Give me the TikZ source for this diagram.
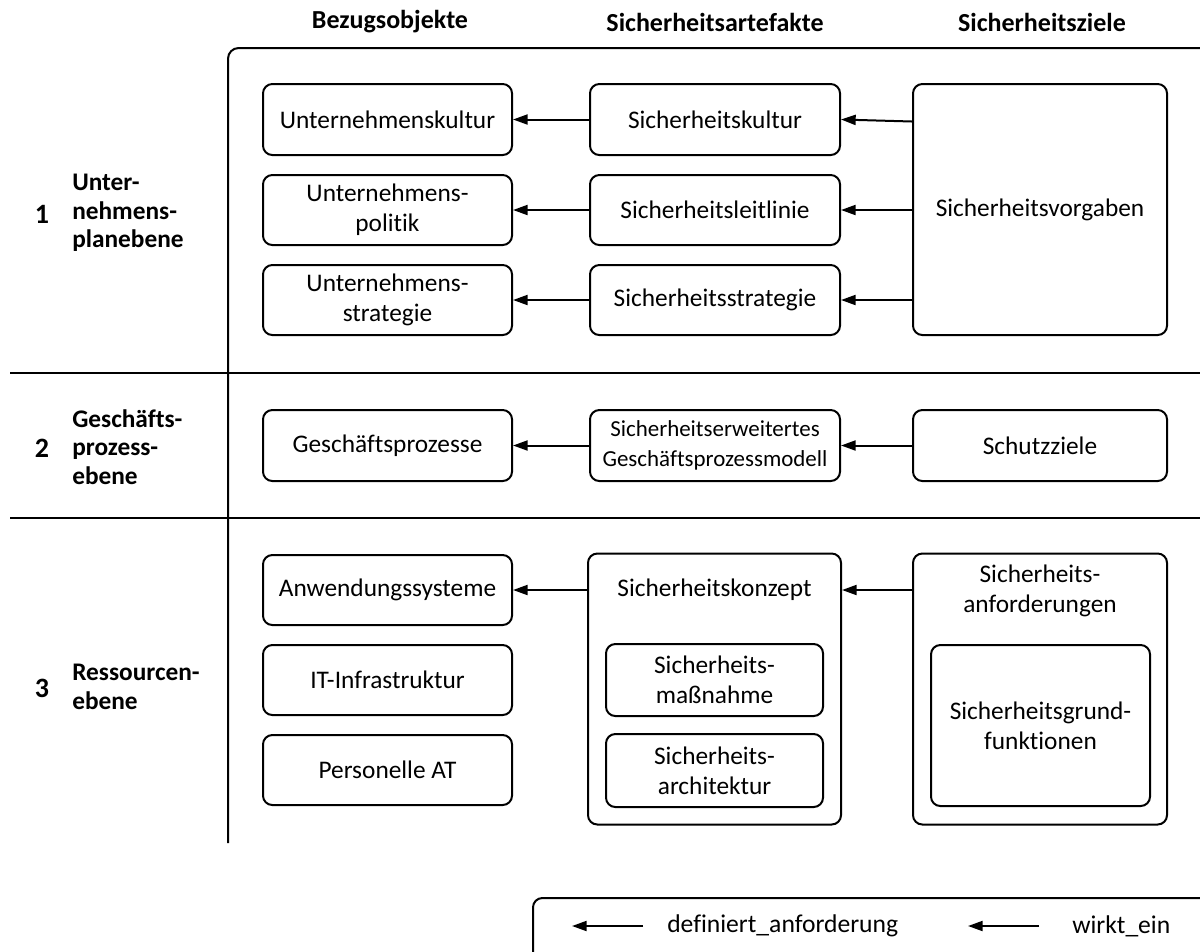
\documentclass[tikz,border=0pt]{standalone}
\usepackage{fontspec}
\setmainfont{Carlito}[Ligatures=NoCommon]
\usetikzlibrary{arrows.meta}
\begin{document}
\begin{tikzpicture}[x=0.75pt,y=-0.75pt,
  every node/.style={font=\fontsize{19}{22.5}\selectfont},
  box/.style={draw,line width=1.5pt,rounded corners=7pt,align=center,inner sep=0pt},
  wpx/.style={minimum width=#1*0.75pt},
  hpx/.style={minimum height=#1*0.75pt},
  small/.style={font=\fontsize{17.2}{22}\selectfont},
  head/.style={font=\bfseries\fontsize{19.5}{22}\selectfont},
  num/.style={font=\bfseries\fontsize{21}{22}\selectfont},
  lvl/.style={font=\bfseries\fontsize{19}{21.5}\selectfont,align=left,anchor=west,inner sep=0pt},
  legtext/.style={font=\fontsize{19.2}{22}\selectfont,anchor=west,inner sep=0pt},
  rule/.style={line width=1.5pt},
  link/.style={line width=1.5pt,-{Triangle[length=11pt,width=7.5pt]}}]
\clip (0,0) rectangle (1200,951);

% column headings
\node[head] (h1) at (390,22) {Bezugsobjekte};
\node[head] (h2) at (715,22) {Sicherheitsartefakte};
\node[head] (h3) at (1042,22) {Sicherheitsziele};

% frame and level separators
\draw[rule,rounded corners=8pt] (228,843) -- (228,48) -- (1215,48);
\draw[rule] (10,373) -- (1215,373);
\draw[rule] (10,518) -- (1215,518);

% level labels
\node[num] (n1) at (42,214) {1};
\node[lvl] (l1) at (72,213) {Unter-\\nehmens-\\planebene};
\node[num] (n2) at (42,448) {2};
\node[lvl] (l2) at (72,447) {Geschäfts-\\prozess-\\ebene};
\node[num] (n3) at (42,688) {3};
\node[lvl] (l3) at (72,687) {Ressourcen-\\ebene};

% level 1
\node[box,wpx=249,hpx=71] (uk) at (387.5,119.5) {Unternehmenskultur};
\node[box,wpx=249,hpx=70] (up) at (387.5,210) {Unternehmens-\\politik};
\node[box,wpx=249,hpx=70] (us) at (387.5,300) {Unternehmens-\\strategie};
\node[box,wpx=250,hpx=71] (sk) at (715,119.5) {Sicherheitskultur};
\node[box,wpx=250,hpx=70] (sl) at (715,210) {Sicherheitsleitlinie};
\node[box,wpx=250,hpx=70] (ss) at (715,300) {Sicherheitsstrategie};
\node[box,wpx=254,hpx=251] (sv) at (1040,209.5) {Sicherheitsvorgaben};

% level 2
\node[box,wpx=249,hpx=71] (gp) at (387.5,445.5) {Geschäftsprozesse};
\node[box,small,wpx=250,hpx=71] (sg) at (715,445.5) {Sicherheitserweitertes\\Geschäftsprozessmodell};
\node[box,wpx=254,hpx=71] (sz) at (1040,445.5) {Schutzziele};

% level 3
\node[box,wpx=249,hpx=70] (as) at (387.5,590) {Anwendungssysteme};
\node[box,wpx=249,hpx=70] (it) at (387.5,680) {IT-Infrastruktur};
\node[box,wpx=249,hpx=70] (pa) at (387.5,770) {Personelle AT};

\node[box,wpx=253,hpx=271] (sko) at (714.5,689) {};
\node (skot) at (714.5,590) {Sicherheitskonzept};
\node[box,wpx=217,hpx=72] (smn) at (714.5,680) {Sicherheits-\\maßnahme};
\node[box,wpx=217,hpx=73] (sar) at (714.5,770.5) {Sicherheits-\\architektur};

\node[box,wpx=254,hpx=271] (san) at (1040,689) {};
\node[align=center] (sant) at (1040,591) {Sicherheits-\\anforderungen};
\node[box,wpx=219,hpx=161] (sgf) at (1040.5,725.5) {Sicherheitsgrund-\\funktionen};

% relations
\draw[link] (sk) -- (uk);
\draw[link] (sl) -- (up);
\draw[link] (ss) -- (us);
\draw[link] ([yshift=-1.5pt]sv.west |- sk.east) -- (sk.east);
\draw[link] (sv.west |- sl.east) -- (sl.east);
\draw[link] (sv.west |- ss.east) -- (ss.east);
\draw[link] (sg) -- (gp);
\draw[link] (sz) -- (sg);
\draw[link] (sko.west |- as.east) -- (as.east);
\draw[link] (san.west |- as.east) -- (sko.east |- as.east);

% legend
\draw[line width=1.5pt,rounded corners=7pt] (533,898) rectangle (1220,975);
\coordinate (a1s) at (643,926);
\coordinate (a1e) at (572,926);
\coordinate (a2s) at (1039,926);
\coordinate (a2e) at (968,926);
\draw[link] (a1s) -- (a1e);
\draw[link] (a2s) -- (a2e);
\node[legtext] (t1) at (667,926) {definiert\_anforderung};
\node[legtext] (t2) at (1072,926) {wirkt\_ein};
\end{tikzpicture}
\end{document}
